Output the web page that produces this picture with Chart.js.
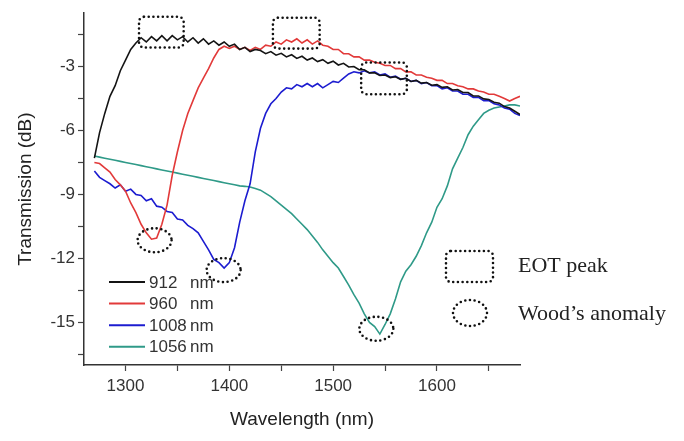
<!DOCTYPE html>
<html>
<head>
<meta charset="utf-8">
<script src="https://cdn.jsdelivr.net/npm/chart.js@4.4.1/dist/chart.umd.min.js"></script>
<style>
html, body { margin: 0; padding: 0; background: #fff; }
#wrap { width: 684px; height: 441px; }
</style>
</head>
<body>
<div id="wrap"><canvas id="specChart"></canvas></div>
<script>
// wavelength grid (nm) shared by all four spectra
const wavelengths = [1270,1275,1280,1285,1290,1295,1300,1305,1310,1315,1320,1325,1330,1335,1340,1345,1350,1355,1360,1365,
    1370,1375,1380,1385,1390,1395,1400,1405,1410,1415,1420,1425,1430,1435,1440,1445,1450,1455,1460,1465,
    1470,1475,1480,1485,1490,1495,1500,1505,1510,1515,1520,1525,1530,1535,1540,1545,1550,1555,1560,1565,
    1570,1575,1580,1585,1590,1595,1600,1605,1610,1615,1620,1625,1630,1635,1640,1645,1650,1655,1660,1665,
    1670,1675,1680];

// transmission (dB)
const t912 = [-7.3,-6.1,-5.2,-4.4,-3.9,-3.2,-2.7,-2.2,-1.9,-1.65,-1.85,-1.6,-1.8,-1.55,-1.8,-1.55,-1.75,-1.6,-1.85,-1.65,
    -1.9,-1.7,-1.95,-1.8,-2.0,-1.85,-2.05,-1.95,-2.2,-2.1,-2.3,-2.2,-2.25,-2.4,-2.3,-2.47,-2.38,-2.55,-2.45,-2.62,
    -2.52,-2.7,-2.6,-2.77,-2.68,-2.85,-2.75,-2.93,-2.85,-3.02,-3.0,-3.15,-3.15,-3.3,-3.3,-3.42,-3.4,-3.52,-3.48,-3.6,
    -3.55,-3.7,-3.65,-3.78,-3.75,-3.88,-3.85,-3.98,-3.95,-4.1,-4.08,-4.22,-4.22,-4.38,-4.38,-4.52,-4.55,-4.68,-4.72,-4.88,
    -4.95,-5.1,-5.25];
const t960 = [-7.5,-7.55,-7.75,-7.95,-8.3,-8.55,-8.85,-9.4,-9.85,-10.4,-10.8,-11.1,-11.05,-10.4,-9.5,-8.1,-7.0,-6.0,-5.2,-4.6,
    -4.0,-3.55,-3.1,-2.6,-2.2,-2.05,-2.15,-2.05,-2.2,-2.1,-2.25,-2.1,-2.2,-2.0,-2.05,-1.85,-1.95,-1.75,-1.85,-1.7,
    -1.9,-1.75,-1.95,-1.8,-2.0,-2.05,-2.2,-2.2,-2.4,-2.4,-2.55,-2.55,-2.7,-2.7,-2.8,-2.85,-2.95,-2.95,-3.1,-3.1,
    -3.25,-3.25,-3.4,-3.4,-3.5,-3.55,-3.65,-3.65,-3.8,-3.8,-3.9,-3.95,-4.05,-4.05,-4.15,-4.2,-4.3,-4.3,-4.4,-4.5,
    -4.62,-4.5,-4.4];
const t1008 = [-7.9,-8.2,-8.35,-8.5,-8.7,-8.55,-8.85,-8.75,-9.0,-9.05,-9.3,-9.2,-9.55,-9.6,-9.8,-9.85,-10.15,-10.2,-10.45,-10.6,
    -10.8,-11.2,-11.6,-12.05,-12.2,-12.45,-12.2,-11.5,-10.3,-9.3,-8.5,-7.0,-5.9,-5.2,-4.75,-4.5,-4.2,-4.0,-4.05,-3.85,
    -3.95,-3.8,-3.95,-3.8,-4.0,-3.85,-3.7,-3.75,-3.55,-3.35,-3.25,-3.3,-3.2,-3.3,-3.25,-3.4,-3.35,-3.5,-3.45,-3.6,
    -3.55,-3.7,-3.65,-3.8,-3.75,-3.9,-3.9,-4.05,-4.0,-4.15,-4.15,-4.3,-4.3,-4.45,-4.45,-4.6,-4.6,-4.75,-4.8,-4.95,
    -5.0,-5.2,-5.3];
const t1056 = [-7.2,-7.25,-7.3,-7.35,-7.4,-7.45,-7.5,-7.55,-7.6,-7.65,-7.7,-7.75,-7.8,-7.85,-7.9,-7.95,-8.0,-8.05,-8.1,-8.15,
    -8.2,-8.25,-8.3,-8.35,-8.4,-8.45,-8.5,-8.55,-8.6,-8.62,-8.65,-8.72,-8.8,-8.95,-9.1,-9.3,-9.5,-9.7,-9.9,-10.15,
    -10.4,-10.65,-10.95,-11.25,-11.6,-11.9,-12.2,-12.45,-12.85,-13.25,-13.7,-14.1,-14.6,-15.0,-15.2,-15.55,-15.1,-14.6,-13.9,-13.1,
    -12.6,-12.3,-11.9,-11.4,-10.8,-10.3,-9.6,-9.2,-8.6,-7.8,-7.3,-6.8,-6.2,-5.8,-5.5,-5.2,-5.05,-4.95,-4.9,-4.85,
    -4.8,-4.8,-4.85];

const seriesLabels = ['912 nm', '960 nm', '1008 nm', '1056 nm'];
const seriesColors = ['#141414', '#e23a3a', '#1c1cd0', '#2f9a88'];

// axis ticks: labelled and minor
const xTickLabels = [1300, 1400, 1500, 1600];
const xMinorTicks = [1350, 1450, 1550, 1650];
const yTickLabels = [-15, -12, -9, -6, -3];
const yMinorTicks = [-16.5, -13.5, -10.5, -7.5, -4.5, -1.5];

// dotted markers: EOT peaks [x0, x1, yTop, yBottom], Wood's anomaly centres [x, y]
const eotPeaks = [[1313, 1356, -0.67, -2.11], [1442, 1487, -0.71, -2.16], [1527, 1571, -2.81, -4.30]];
const woodDips = [[1328, -11.15], [1394.5, -12.55], [1541.6, -15.3]];

const seriesData = [t912, t960, t1008, t1056].map(vals => vals.map((v, i) => ({ x: wavelengths[i], y: v })));

function dotted(ctx) {
    ctx.strokeStyle = '#111';
    ctx.lineWidth = 2.6;
    ctx.lineCap = 'round';
    ctx.setLineDash([0, 4.7]);
}

const markPlugin = {
    id: 'marks',
    afterDatasetsDraw(chart) {
        const { ctx, scales: { x, y } } = chart;
        ctx.save();
        dotted(ctx);
        eotPeaks.forEach(b => {
            const x0 = x.getPixelForValue(b[0]), x1 = x.getPixelForValue(b[1]);
            const y0 = y.getPixelForValue(b[2]), y1 = y.getPixelForValue(b[3]);
            ctx.beginPath();
            ctx.roundRect(x0, y0, x1 - x0, y1 - y0, 5);
            ctx.stroke();
        });
        woodDips.forEach(d => {
            ctx.beginPath();
            ctx.ellipse(x.getPixelForValue(d[0]), y.getPixelForValue(d[1]), 17, 12, 0, 0, Math.PI * 2);
            ctx.stroke();
        });

        // key on the right
        ctx.beginPath();
        ctx.roundRect(446, 251, 47, 31, 5);
        ctx.stroke();
        ctx.beginPath();
        ctx.ellipse(470, 313, 17, 13, 0, 0, Math.PI * 2);
        ctx.stroke();
        ctx.setLineDash([]);
        ctx.fillStyle = '#222';
        ctx.font = '22px "Liberation Serif", "Times New Roman", serif';
        ctx.textBaseline = 'alphabetic';
        ctx.fillText('EOT peak', 518, 272);
        ctx.fillText('Wood\u2019s anomaly', 518, 320);

        // series legend, bottom left
        ctx.font = '17px "Liberation Sans", Arial, sans-serif';
        ctx.textBaseline = 'middle';
        ctx.lineCap = 'butt';
        seriesLabels.forEach((lab, i) => {
            const yy = 282 + i * 21.6;
            ctx.strokeStyle = seriesColors[i];
            ctx.lineWidth = 2;
            ctx.beginPath();
            ctx.moveTo(109, yy);
            ctx.lineTo(145, yy);
            ctx.stroke();
            const parts = lab.split(' ');
            ctx.fillStyle = '#333';
            ctx.fillText(parts[0], 149, yy + 1);
            ctx.fillText(parts[1], 190, yy + 1);
        });
        ctx.restore();
    }
};

const axisFont = { family: '"Liberation Sans", Arial, sans-serif', size: 17 };
const titleFont = { family: '"Liberation Sans", Arial, sans-serif', size: 19 };

function setTicks(major, minor) {
    return s => {
        s.ticks = major.concat(minor).sort((a, b) => a - b).map(v => ({ value: v }));
    };
}

new Chart(document.getElementById('specChart'), {
    type: 'line',
    data: {
        datasets: seriesData.map((d, i) => ({
            label: seriesLabels[i],
            data: d,
            borderColor: seriesColors[i],
            borderWidth: 1.6,
            pointRadius: 0,
            tension: 0,
            fill: false
        }))
    },
    options: {
        responsive: true,
        maintainAspectRatio: false,
        animation: false,
        layout: { padding: { top: 11, right: 164, left: 0, bottom: 0 } },
        plugins: {
            legend: { display: false },
            tooltip: { enabled: false }
        },
        scales: {
            x: {
                type: 'linear',
                min: 1260,
                max: 1680,
                afterFit: s => { s.height = 76; },
                afterBuildTicks: setTicks(xTickLabels, xMinorTicks),
                ticks: {
                    padding: 5,
                    color: '#333',
                    font: axisFont,
                    autoSkip: false,
                    maxRotation: 0,
                    callback: v => (xTickLabels.includes(v) ? String(v) : '')
                },
                grid: { display: true, drawOnChartArea: false, tickLength: 6, tickColor: '#444', tickWidth: 1.2 },
                border: { display: true, color: '#333', width: 1.5 },
                title: { display: true, text: 'Wavelength (nm)', color: '#222', font: titleFont, padding: { top: 0, bottom: 10 } }
            },
            y: {
                min: -17,
                max: -0.5,
                afterFit: s => { s.width = 84; },
                afterBuildTicks: setTicks(yTickLabels, yMinorTicks),
                ticks: {
                    padding: 3,
                    color: '#333',
                    font: axisFont,
                    autoSkip: false,
                    callback: v => (yTickLabels.includes(v) ? String(v) : '')
                },
                grid: { display: true, drawOnChartArea: false, tickLength: 6, tickColor: '#444', tickWidth: 1.2 },
                border: { display: true, color: '#333', width: 1.5 },
                title: { display: true, text: 'Transmission (dB)', color: '#222', font: titleFont, padding: { top: 14, bottom: 0 } }
            }
        }
    },
    plugins: [markPlugin]
});
</script>
</body>
</html>
